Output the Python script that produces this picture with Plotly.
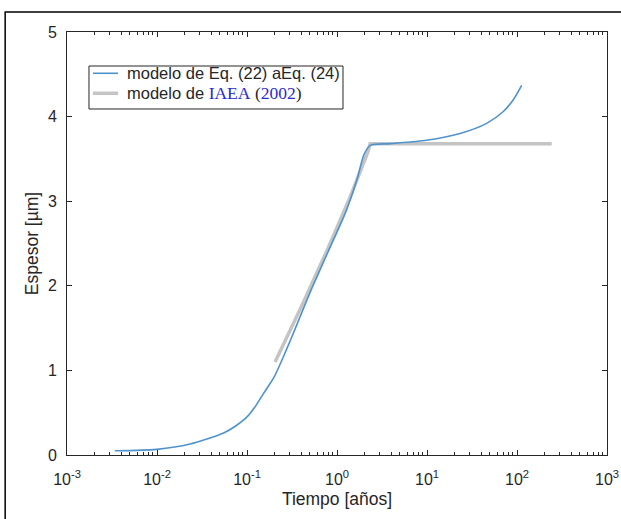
import plotly.graph_objects as go

# Blue model: Eq. (22) a Eq. (24)
t_model = [0.0034, 0.0099, 0.0233, 0.0550, 0.0741, 0.100, 0.123, 0.151, 0.200, 0.251, 0.316,
           0.501, 0.794, 1.259, 1.66, 1.995, 2.34, 3.88, 9.91, 23.3, 46.0, 70.5, 91.0, 112.7]
y_model = [0.05, 0.067, 0.13, 0.26, 0.34, 0.45, 0.57, 0.72, 0.92, 1.15, 1.40,
           1.92, 2.40, 2.88, 3.25, 3.55, 3.66, 3.68, 3.72, 3.80, 3.92, 4.06, 4.20, 4.37]

# Gray model: IAEA (2002)
t_iaea = [0.205, 0.40, 0.80, 1.40, 2.20, 2.33, 243.0]
y_iaea = [1.10, 1.75, 2.45, 3.05, 3.58, 3.68, 3.68]

x_tickvals = [1e-3, 1e-2, 1e-1, 1e0, 1e1, 1e2, 1e3]
x_ticktext = ["10<sup>-3</sup>", "10<sup>-2</sup>", "10<sup>-1</sup>", "10<sup>0</sup>",
              "10<sup>1</sup>", "10<sup>2</sup>", "10<sup>3</sup>"]
y_tickvals = [0, 1, 2, 3, 4, 5]

minor_vals = [m * 10 ** e for e in range(-3, 3) for m in range(2, 10)]

name_model = "modelo de Eq. (22) aEq. (24)"
serif = "font-family:Liberation Serif, Times New Roman, serif;font-size:17.5px"
name_iaea = (f"modelo de <span style='{serif};color:#2a2ad0'>IAEA</span> "
             f"<span style='{serif}'>(</span>"
             f"<span style='{serif};color:#2a2ad0'>2002</span>"
             f"<span style='{serif}'>)</span>")

BLUE = "#4f93cc"
GRAY = "#c4c4c4"
INK = "#262626"

fig = go.Figure()
fig.add_trace(go.Scatter(
    x=t_iaea, y=y_iaea, mode="lines",
    line=dict(color=GRAY, width=3.5),
    name=name_iaea, showlegend=False,
))
fig.add_trace(go.Scatter(
    x=t_model, y=y_model, mode="lines", line_shape="spline",
    line=dict(color=BLUE, width=1.6, smoothing=0.7),
    name=name_model, showlegend=False,
))

axis_font = dict(family="Liberation Sans, Arial, sans-serif", size=16, color=INK)

# hand-made legend box (paper coordinates)
lx0, lx1, ly0, ly1 = 0.0407, 0.5111, 0.8180, 0.9196
row1, row2 = 0.9024, 0.8551
sx0, sx1, tx = 0.0481, 0.0944, 0.1074

shapes = [
    dict(type="rect", xref="paper", yref="paper", x0=lx0, x1=lx1, y0=ly0, y1=ly1,
         line=dict(color=INK, width=1), fillcolor="white", layer="above"),
    dict(type="line", xref="paper", yref="paper", x0=sx0, x1=sx1, y0=row1, y1=row1,
         line=dict(color=BLUE, width=1.6), layer="above"),
    dict(type="line", xref="paper", yref="paper", x0=sx0, x1=sx1, y0=row2, y1=row2,
         line=dict(color=GRAY, width=3.5), layer="above"),
    dict(type="rect", xref="paper", yref="paper",
         x0=-0.1145, x1=1.06, y0=-0.2, y1=1.047,
         line=dict(color="black", width=1.5), fillcolor="rgba(0,0,0,0)", layer="above"),
]
annotations = [
    dict(xref="paper", yref="paper", x=tx, y=row1, xanchor="left", yanchor="middle",
         text=name_model, showarrow=False, font=dict(size=16.5, color=INK)),
    dict(xref="paper", yref="paper", x=tx, y=row2, xanchor="left", yanchor="middle",
         text=name_iaea, showarrow=False, font=dict(size=16.5, color=INK)),
]

fig.update_layout(
    width=621, height=519,
    margin=dict(l=67, r=14, t=32, b=64),
    paper_bgcolor="white", plot_bgcolor="white",
    font=dict(family="Liberation Sans, Arial, sans-serif", color=INK),
    showlegend=False,
    xaxis=dict(
        type="log", range=[-3, 3], automargin=False,
        tickvals=x_tickvals, ticktext=x_ticktext,
        ticks="inside", ticklen=5, tickcolor=INK, ticklabelstandoff=10,
        showline=True, linecolor=INK, linewidth=1, mirror="ticks",
        showgrid=False, zeroline=False,
        tickfont=axis_font,
        minor=dict(tickvals=minor_vals, ticks="inside", ticklen=3, tickcolor=INK, showgrid=False),
        title=dict(text="Tiempo [años]", font=dict(size=17.5, color=INK), standoff=5),
    ),
    yaxis=dict(
        range=[0, 5], tickvals=y_tickvals, automargin=False,
        ticks="inside", ticklen=5, tickcolor=INK, ticklabelstandoff=6,
        showline=True, linecolor=INK, linewidth=1, mirror="ticks",
        showgrid=False, zeroline=False,
        tickfont=axis_font,
        title=dict(text="Espesor [µm]", font=dict(size=17.5, color=INK), standoff=4),
    ),
    shapes=shapes,
    annotations=annotations,
)

fig.write_html("out.html", config={"displayModeBar": False},
               post_script="document.body.style.margin='0';document.body.style.overflow='hidden';")
